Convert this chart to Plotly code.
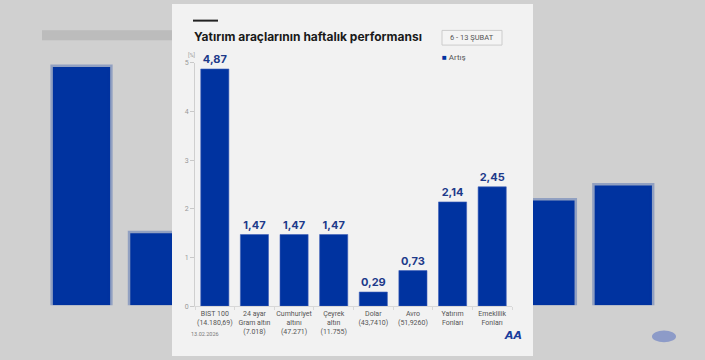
import plotly.graph_objects as go

# ---- data ----
categories = ["BIST 100", "24 ayar Gram altın", "Cumhuriyet altını", "Çeyrek altın",
              "Dolar", "Avro", "Yatırım Fonları", "Emeklilik Fonları"]
tick_labels = ["BIST 100<br>(14.180,69)", "24 ayar<br>Gram altın<br>(7.018)",
               "Cumhuriyet<br>altını<br>(47.271)", "Çeyrek<br>altın<br>(11.755)",
               "Dolar<br>(43,7410)", "Avro<br>(51,9260)", "Yatırım<br>Fonları",
               "Emeklilik<br>Fonları"]
values = [4.87, 1.47, 1.47, 1.47, 0.29, 0.73, 2.14, 2.45]
y_ticks = [0, 1, 2, 3, 4, 5]
series_name = "Artış"
title_text = "Yatırım araçlarının haftalık performansı"
date_range = "6 - 13 ŞUBAT"
date_text = "13.02.2026"

W, H = 705, 360
def X(px): return px / W
def Y(py): return 1 - py / H

BLUE = "#0033a0"
fig = go.Figure()

# blurred, magnified background copy of the chart (left and right strips)
for xa, ya in (("x2", "y2"), ("x3", "y3")):
    fig.add_trace(go.Bar(x=tick_labels, y=values, xaxis=xa, yaxis=ya, width=0.74,
                         marker=dict(color=BLUE, line=dict(color="rgba(0,51,160,0.3)", width=5)),
                         showlegend=False, hoverinfo="skip"))

# main chart
fig.add_trace(go.Bar(
    x=tick_labels, y=values, width=0.71, name=series_name,
    marker=dict(color=BLUE, line=dict(color="#3f5fb8", width=0.6)),
    text=values, texttemplate="%{y:.2f}", textposition="outside", cliponaxis=False,
    textfont=dict(family="Inter", size=11, color="#1d3a8a", weight=700),
    showlegend=False,
))

fig.update_layout(
    width=W, height=H, autosize=False,
    margin=dict(l=0, r=0, t=0, b=0),
    paper_bgcolor="#d0d0d0", plot_bgcolor="rgba(0,0,0,0)",
    separators=",.",
    font=dict(family="Roboto", color="#555"),
    xaxis=dict(domain=[X(195), X(512)], range=[-0.5, 7.5], type="category",
               showline=True, linecolor="#d8d8d8", linewidth=1,
               ticks="outside", tickson="boundaries", ticklen=3, tickcolor="#d8d8d8",
               tickangle=0,
               tickfont=dict(size=7, color="#555"), showgrid=False, zeroline=False,
               fixedrange=True),
    yaxis=dict(domain=[Y(309), Y(60)], range=[0, 5], tickvals=y_ticks,
               showline=True, linecolor="#cfcfcf", linewidth=1,
               ticks="outside", ticklen=4, tickcolor="#c8c8c8",
               tickfont=dict(size=7, color="#999"), showgrid=False, zeroline=False),
    xaxis2=dict(domain=[0, X(172)], range=[-1.053, 1.169], visible=False, anchor="y2", type="category"),
    yaxis2=dict(domain=[Y(308), 1], range=[0, 6.16], visible=False, anchor="x2"),
    xaxis3=dict(domain=[X(533), 1], range=[5.833, 8.056], visible=False, anchor="y3", type="category"),
    yaxis3=dict(domain=[Y(308), 1], range=[0, 6.16], visible=False, anchor="x3"),
)

shapes = [
    # white panel
    dict(type="rect", xref="paper", yref="paper", x0=X(172), x1=X(533), y0=0, y1=1,
         fillcolor="#f2f2f2", line=dict(width=0), layer="below"),
    # blurred title band in background
    dict(type="line", xref="paper", yref="paper", x0=X(42), x1=X(172), y0=Y(32), y1=Y(32),
         line=dict(color="rgba(120,120,120,0.22)", width=10), layer="below"),
    # blurred logo in background
    dict(type="circle", xref="paper", yref="paper", x0=X(652), x1=X(676), y0=Y(346), y1=Y(334),
         fillcolor="rgba(60,90,190,0.45)", line=dict(width=0), layer="below"),
    # black rule above title
    dict(type="line", xref="paper", yref="paper", x0=X(193), x1=X(218), y0=Y(17), y1=Y(17),
         line=dict(color="#222", width=2)),
    # date range box
    dict(type="rect", xref="paper", yref="paper", x0=X(442), x1=X(502), y0=Y(42), y1=Y(27),
         fillcolor="#f4f4f4", line=dict(color="#cccccc", width=1)),
]
fig.update_layout(shapes=shapes)

ann = [
    dict(text=title_text, x=X(192), y=Y(33), xanchor="left", yanchor="middle",
         font=dict(family="Inter", size=12, color="#1a1a1a", weight=700)),
    dict(text=date_range, x=X(472), y=Y(34.5), xanchor="center", yanchor="middle",
         font=dict(family="Roboto", size=7.5, color="#555")),
    dict(text="<span style='color:%s'>■</span> %s" % (BLUE, series_name),
         x=X(440), y=Y(55), xanchor="left", yanchor="middle",
         font=dict(family="Roboto", size=8, color="#555")),
    dict(text="[%]", x=X(191), y=Y(52), xanchor="center", yanchor="middle",
         font=dict(family="Roboto", size=5.5, color="#999")),
    dict(text=date_text, x=X(189), y=Y(338), xanchor="left", yanchor="middle",
         font=dict(family="Roboto", size=5.5, color="#777")),
    dict(text="<b><i>AA</i></b>", x=X(513), y=Y(339), xanchor="center", yanchor="middle",
         font=dict(family="DejaVu Sans", size=11, color="#1a3d9c")),
]
for a in ann:
    a.update(xref="paper", yref="paper", showarrow=False)
fig.update_layout(annotations=ann)

fig.write_html("out.html", config={"displayModeBar": False},
               post_script="document.body.style.margin='0';document.body.style.overflow='hidden';")
